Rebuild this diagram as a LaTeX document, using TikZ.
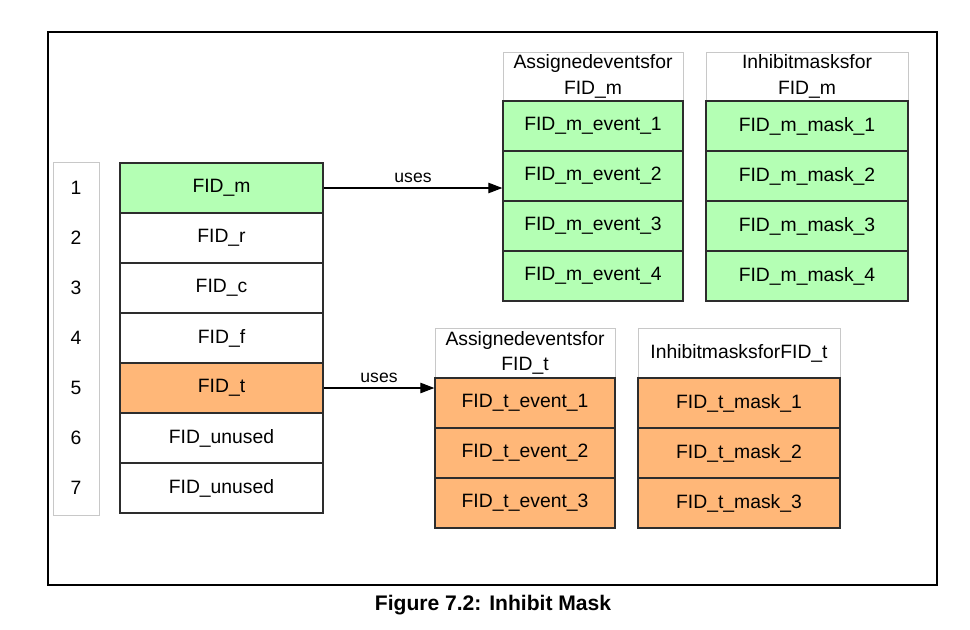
\documentclass[tikz,border=0pt]{standalone}
\usepackage{fontspec}
\setmainfont{Liberation Sans}
\usetikzlibrary{arrows.meta,positioning,calc}
\definecolor{fidgreen}{RGB}{180,255,180}
\definecolor{fidorange}{RGB}{255,183,120}
\definecolor{fidline}{RGB}{45,45,45}
\definecolor{fidlight}{RGB}{200,200,200}

\begin{document}
\begin{tikzpicture}[
  x=0.02cm, y=-0.02cm,
  font=\fontsize{11}{14.5}\selectfont,
  row/.style={draw=fidline, line width=0.8pt, minimum width=4.06cm,
              minimum height=1cm, inner sep=0pt, fill=white},
  evt/.style={row, minimum width=3.6cm},
  msk/.style={row, minimum width=4.04cm},
  mrow/.style={fill=fidgreen},
  trow/.style={fill=fidorange},
  hdr/.style={draw=fidlight, line width=0.4pt, minimum height=0.98cm,
              inner sep=0pt, align=center, fill=white},
  num/.style={inner sep=0pt},
  uses/.style={draw=black, line width=0.6pt, -{Triangle[length=8pt,width=6pt]}},
  lbl/.style={font=\fontsize{10}{12}\selectfont, inner sep=1pt}
]
\useasboundingbox (0,0) rectangle (970,629);

% outer frame
\draw[line width=1.1pt] (48,32) rectangle (937,585);

% index column
\node[draw=fidlight, line width=0.5pt, minimum width=0.92cm, minimum height=7.06cm] (idx) at (76,338.5) {};
\node[num] (n1) at (76,188) {1};
\node[num] (n2) at (76,238) {2};
\node[num] (n3) at (76,288) {3};
\node[num] (n4) at (76,338) {4};
\node[num] (n5) at (76,388) {5};
\node[num] (n6) at (76,438) {6};
\node[num] (n7) at (76,488) {7};

% FID table
\node[row, mrow] (fm) at (221.5,188) {FID\_m};
\node[row] (fr) at (221.5,238) {FID\_r};
\node[row] (fc) at (221.5,288) {FID\_c};
\node[row] (ff) at (221.5,338) {FID\_f};
\node[row, trow] (ft) at (221.5,388) {FID\_t};
\node[row] (fu1) at (221.5,438) {FID\_unused};
\node[row] (fu2) at (221.5,488) {FID\_unused};

% FID_m events and masks
\node[hdr, minimum width=3.6cm] (mevh) at (593,76.5) {Assignedeventsfor\\FID\_m};
\node[evt, mrow] (mev1) at (593,126) {FID\_m\_event\_1};
\node[evt, mrow] (mev2) at (593,176) {FID\_m\_event\_2};
\node[evt, mrow] (mev3) at (593,226) {FID\_m\_event\_3};
\node[evt, mrow] (mev4) at (593,276) {FID\_m\_event\_4};

\node[hdr, minimum width=4.04cm] (mmkh) at (807,76.5) {Inhibitmasksfor\\FID\_m};
\node[msk, mrow] (mmk1) at (807,126) {FID\_m\_mask\_1};
\node[msk, mrow] (mmk2) at (807,176) {FID\_m\_mask\_2};
\node[msk, mrow] (mmk3) at (807,226) {FID\_m\_mask\_3};
\node[msk, mrow] (mmk4) at (807,276) {FID\_m\_mask\_4};

% FID_t events and masks
\node[hdr, minimum width=3.6cm] (tevh) at (525,353) {Assignedeventsfor\\FID\_t};
\node[evt, trow] (tev1) at (525,403) {FID\_t\_event\_1};
\node[evt, trow] (tev2) at (525,453) {FID\_t\_event\_2};
\node[evt, trow] (tev3) at (525,503) {FID\_t\_event\_3};

\node[hdr, minimum width=4.04cm] (tmkh) at (739,353) {InhibitmasksforFID\_t};
\node[msk, trow] (tmk1) at (739,403) {FID\_t\_mask\_1};
\node[msk, trow] (tmk2) at (739,453) {FID\_t\_mask\_2};
\node[msk, trow] (tmk3) at (739,503) {FID\_t\_mask\_3};

% links
\draw[uses] (fm.east) -- (fm.east -| mev2.west)
  node[lbl, pos=0.5, above=2pt] (um) {uses};
\draw[uses] (ft.east) -- (ft.east -| tev1.west)
  node[lbl, pos=0.5, above=2pt] (ut) {uses};

\node[font=\fontsize{12}{14}\selectfont\bfseries] (cap) at (493,605) {Figure 7.2: Inhibit Mask};
\end{tikzpicture}
\end{document}
